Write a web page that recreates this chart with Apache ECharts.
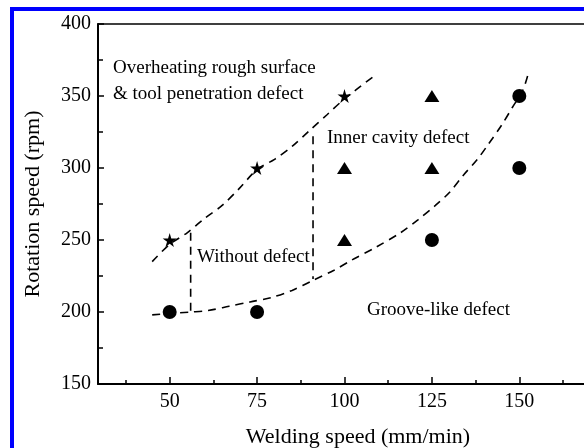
<!DOCTYPE html>
<html>
<head>
<meta charset="utf-8">
<script src="https://cdn.jsdelivr.net/npm/echarts@6/dist/echarts.min.js"></script>
<style>
  html, body { margin: 0; padding: 0; background: #fff; }
  #chart { width: 584px; height: 448px; }
</style>
</head>
<body>
<div id="chart"></div>
<script>
var xTicks = [50, 75, 100, 125, 150];
var xMinorTicks = [37.5, 62.5, 87.5, 112.5, 137.5, 162.5];

// test points (welding speed, rotation speed)
var starPts = [[50, 250], [75, 300], [100, 350]];
var trianglePts = [[100, 300], [100, 250], [125, 350], [125, 300]];
var circlePts = [[50, 200], [75, 200], [125, 250], [150, 350], [150, 300]];

// boundary lines
var upperBound = [[45, 235], [50, 247], [55, 255], [60, 265], [65, 274], [70, 286], [75, 299],
    [80, 306], [85, 315], [90, 326], [95, 337], [100, 348], [108, 363]];
var lowerBound = [[45, 198], [50, 199], [56, 200], [61, 201], [67, 204], [73, 207], [79, 210],
    [85, 215], [91, 222], [97, 229], [102, 236], [109, 245], [116, 255], [121, 264], [126, 274],
    [130, 283], [134, 295], [138, 306], [141, 316], [145, 330], [148, 342], [151, 354], [152.5, 365]];
var leftDivider = [[56, 255], [56, 200]];
var rightDivider = [[91, 322], [91, 223]];

var starPath = 'path://M50,0 L61,35 L98,35 L68,57 L79,91 L50,70 L21,91 L32,57 L2,35 L39,35 Z';
var font = 'Liberation Serif';
var xMin = 29.5, xMax = 168.5;

var chartDom = document.getElementById('chart');
var myChart = echarts.init(chartDom);

function dashLine(data, smooth) {
    return {
        type: 'line',
        data: data,
        smooth: smooth,
        symbol: 'none',
        silent: true,
        lineStyle: { color: '#000', width: 1.6, type: [8, 6] },
        z: 2
    };
}

var option = {
    animation: false,
    backgroundColor: '#fff',
    grid: {
        left: 98,
        top: 24,
        right: 0,
        bottom: 64,
        show: false,
        outerBoundsMode: 'none',
        containLabel: false
    },
    xAxis: [
        {
            type: 'value',
            min: xMin,
            max: xMax,
            name: 'Welding speed (mm/min)',
            nameLocation: 'middle',
            nameGap: 42,
            nameTextStyle: { color: '#000', fontSize: 22, fontFamily: font, padding: [0, 0, 0, 34] },
            axisLine: { show: true, lineStyle: { color: '#000', width: 2 } },
            axisTick: { show: true, inside: true, length: 7, customValues: xTicks, lineStyle: { color: '#000', width: 1.5 } },
            axisLabel: { customValues: xTicks, color: '#000', fontSize: 20, fontFamily: font, margin: 8 },
            splitLine: { show: false }
        },
        {
            type: 'value',
            min: xMin,
            max: xMax,
            position: 'bottom',
            axisLine: { show: false },
            axisTick: { show: true, inside: true, length: 4, customValues: xMinorTicks, lineStyle: { color: '#000', width: 1.5 } },
            axisLabel: { show: false },
            splitLine: { show: false }
        },
        {
            type: 'value',
            min: xMin,
            max: xMax,
            position: 'top',
            axisLine: { show: true, lineStyle: { color: '#000', width: 1.5 } },
            axisTick: { show: false },
            axisLabel: { show: false },
            splitLine: { show: false }
        }
    ],
    yAxis: {
        type: 'value',
        min: 150,
        max: 400,
        interval: 50,
        name: 'Rotation speed (rpm)',
        nameLocation: 'middle',
        nameGap: 54,
        nameTextStyle: { color: '#000', fontSize: 22, fontFamily: font },
        axisLine: { show: true, lineStyle: { color: '#000', width: 2 } },
        axisTick: { show: true, inside: true, length: 6, lineStyle: { color: '#000', width: 1.5 } },
        minorTick: { show: true, splitNumber: 2, length: 5, lineStyle: { color: '#000', width: 1.5 } },
        axisLabel: { color: '#000', fontSize: 20, fontFamily: font, margin: 7 },
        splitLine: { show: false }
    },
    graphic: [
        { type: 'rect', shape: { x: 10, y: 7, width: 574, height: 4 }, style: { fill: '#0000fe' } },
        { type: 'rect', shape: { x: 10, y: 7, width: 4, height: 441 }, style: { fill: '#0000fe' } },
        { type: 'text', left: 113, top: 59, style: { text: 'Overheating rough surface', fill: '#000', fontSize: 19, fontFamily: font } },
        { type: 'text', left: 113, top: 85, style: { text: '& tool penetration defect', fill: '#000', fontSize: 19, fontFamily: font } },
        { type: 'text', left: 327, top: 129, style: { text: 'Inner cavity defect', fill: '#000', fontSize: 19, fontFamily: font } },
        { type: 'text', left: 197, top: 248, style: { text: 'Without defect', fill: '#000', fontSize: 19, fontFamily: font } },
        { type: 'text', left: 367, top: 301, style: { text: 'Groove-like defect', fill: '#000', fontSize: 19, fontFamily: font } }
    ],
    series: [
        dashLine(upperBound, 0.3),
        dashLine(lowerBound, 0.3),
        dashLine(leftDivider, false),
        dashLine(rightDivider, false),
        {
            type: 'scatter',
            data: starPts,
            symbol: starPath,
            symbolSize: 14,
            itemStyle: { color: '#000', opacity: 1 },
            z: 3
        },
        {
            type: 'scatter',
            data: trianglePts,
            symbol: 'triangle',
            symbolSize: [15, 12],
            itemStyle: { color: '#000', opacity: 1 },
            z: 3
        },
        {
            type: 'scatter',
            data: circlePts,
            symbol: 'circle',
            symbolSize: 14,
            itemStyle: { color: '#000', opacity: 1 },
            z: 3
        }
    ]
};

option && myChart.setOption(option);
</script>
</body>
</html>
